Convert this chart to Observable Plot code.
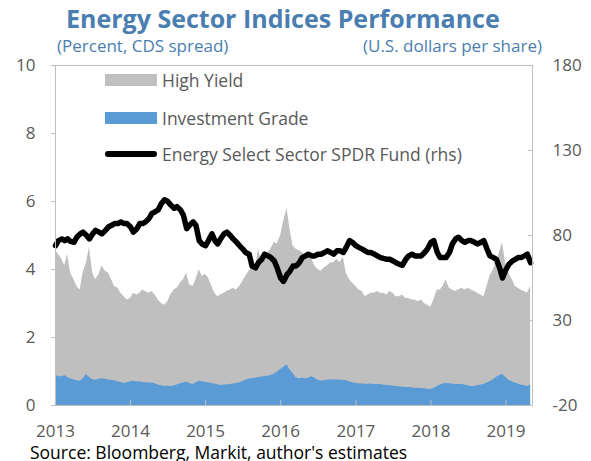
<!DOCTYPE html>
<html><head><meta charset="utf-8">
<script src="https://cdn.jsdelivr.net/npm/d3@7"></script>
<script src="https://cdn.jsdelivr.net/npm/@observablehq/plot@0.6"></script>
<style>
body{margin:0;background:#fff;font-family:"Open Sans",sans-serif;}
#wrap{position:relative;width:591px;height:461px;overflow:hidden;}
#title{height:36px;line-height:36px;font-weight:700;font-size:25px;color:#4A7EB0;padding-left:66px;white-space:nowrap;}
#sub{position:relative;height:22px;font-size:17px;color:#4A7EB0;}
#sub span{position:absolute;top:-1px;line-height:22px;white-space:nowrap;}
#sub .l{left:57px;}
#sub .r{right:49px;}
#chart svg{display:block;}
#src{font-size:17.5px;color:#000;padding-left:30px;line-height:18px;white-space:nowrap;}
.lg{position:absolute;left:0;top:0;}
.sw{position:absolute;left:105px;width:52px;}
.lt{position:absolute;left:162px;font-size:17.5px;color:#595959;line-height:20px;white-space:nowrap;}
</style></head>
<body>
<div id="wrap">
  <div id="title">Energy Sector Indices Performance</div>
  <div id="sub"><span class="l">(Percent, CDS spread)</span><span class="r">(U.S. dollars per share)</span></div>
  <div id="chart"></div>
  <div id="src">Source: Bloomberg, Markit, author's estimates</div>
  <div class="lg">
    <div class="sw" style="top:74px;height:12px;background:#BFBFBF"></div>
    <div class="lt" style="top:70px">High Yield</div>
    <div class="sw" style="top:112px;height:12px;background:#5B9BD5"></div>
    <div class="lt" style="top:108px">Investment Grade</div>
    <div class="sw" style="top:151px;height:6px;border-radius:3px;background:#000"></div>
    <div class="lt" style="top:144px">Energy Select Sector SPDR Fund (rhs)</div>
  </div>
</div>
<script>
// Semi-monthly observations (1st and 15th of each month), Jan 1 2013 - May 1 2019
const highYield = [
  4.55,4.45,4.3,4.1,4.45,3.9,3.7,3.5,3.4,3.9,4.2,4.65,3.9,3.7,3.85,4.1,3.95,3.9,3.7,3.5,3.45,3.3,3.2,3.1,
  3.15,3.3,3.25,3.3,3.4,3.35,3.3,3.35,3.25,3.1,3.0,2.95,3.05,3.25,3.4,3.45,3.6,3.7,3.9,3.55,3.5,3.7,4.0,3.8,
  3.85,3.75,3.5,3.3,3.2,3.25,3.3,3.35,3.4,3.45,3.4,3.5,3.65,3.8,3.95,4.1,4.0,4.6,4.2,4.35,4.5,4.6,4.8,4.75,
  5.0,5.4,5.8,5.2,4.7,4.6,4.55,4.5,4.4,4.5,4.3,4.1,4.0,3.95,4.05,4.1,4.2,4.2,4.3,4.2,4.35,3.9,3.7,3.6,
  3.5,3.4,3.35,3.2,3.25,3.3,3.3,3.35,3.3,3.3,3.25,3.35,3.3,3.2,3.2,3.25,3.15,3.15,3.1,3.1,3.05,3.1,3.0,2.95,
  2.9,3.1,3.4,3.4,3.5,3.7,3.45,3.4,3.35,3.4,3.45,3.4,3.45,3.4,3.35,3.3,3.25,3.2,3.5,3.8,4.0,4.2,4.5,4.8,
  4.1,3.9,3.7,3.5,3.45,3.4,3.35,3.3,3.5
];
const investmentGrade = [
  0.85,0.86,0.84,0.88,0.82,0.79,0.76,0.73,0.71,0.78,0.92,0.82,0.76,0.74,0.77,0.79,0.77,0.75,0.74,0.73,0.7,0.68,0.65,0.67,
  0.7,0.71,0.69,0.7,0.68,0.67,0.66,0.66,0.64,0.6,0.58,0.56,0.57,0.56,0.57,0.6,0.64,0.66,0.69,0.65,0.62,0.66,0.71,0.7,
  0.68,0.67,0.65,0.63,0.61,0.59,0.6,0.61,0.62,0.63,0.65,0.67,0.7,0.74,0.78,0.79,0.8,0.82,0.83,0.85,0.86,0.88,0.92,0.98,
  1.06,1.12,1.2,1.05,0.95,0.82,0.79,0.8,0.79,0.8,0.85,0.8,0.74,0.72,0.73,0.74,0.75,0.76,0.75,0.74,0.74,0.73,0.7,0.67,
  0.65,0.64,0.63,0.63,0.62,0.63,0.62,0.62,0.62,0.6,0.59,0.58,0.57,0.56,0.55,0.54,0.53,0.53,0.52,0.51,0.51,0.5,0.49,0.48,
  0.47,0.5,0.56,0.6,0.63,0.65,0.64,0.63,0.62,0.62,0.62,0.6,0.58,0.56,0.56,0.58,0.6,0.62,0.66,0.7,0.76,0.82,0.88,0.91,
  0.82,0.74,0.7,0.66,0.63,0.6,0.58,0.56,0.6
];
const energySPDR = [
  74,77,78,77,78,76.5,76,79,81,82,80,78,81,83,82,81,83,85,86,87,87,88,87,87,
  85,82,84,87,87,88,90,93,94,95,99,101,100,98,96,97,95,92,84,86,88,86,77,75,
  74,77,81,77,75,78,81,82,80,78,76,74,72,70,69,62,61,64,66,69,68,67,65,61,
  55,53,57,59,62,62,64,67,68,69,68,68,69,69,70,71,70,69,71,71,70,73,77,76,
  74,73,72,71,70,70,69,68,67,66.5,66,66,65,64,63,62.5,66,68,69,68,68,68,70,72,
  76,77,70,67,67,67,70,75,78,79,77,76,77,77,76,75,76,77,72,68,67,66,61,55,
  60,63,65,66,67,67,68,69,64
];
const yearTicks = [2013, 2014, 2015, 2016, 2017, 2018, 2019];
const leftTicks = [0, 2, 4, 6, 8, 10];
const rightTicks = [-20, 30, 80, 130, 180];

const startDate = new Date(Date.UTC(2013, 0, 1));
const endDate = new Date(Date.UTC(2019, 4, 10));
const rows = highYield.map((hy, i) => ({
  date: new Date(Date.UTC(2013, Math.floor(i / 2), i % 2 ? 15 : 1)),
  hy, ig: investmentGrade[i], xle: energySPDR[i]
}));
const lMax = leftTicks[leftTicks.length - 1];
const rMin = rightTicks[0], rMax = rightTicks[rightTicks.length - 1];
const toLeft = v => (v - rMin) / (rMax - rMin) * lMax;

const frameColor = "#BFBFBF";
const plot = Plot.plot({
  width: 591, height: 385,
  marginLeft: 55, marginRight: 59, marginTop: 7, marginBottom: 38,
  style: {fontFamily: "Open Sans", fontSize: "17px", color: "#595959", overflow: "visible", background: "transparent"},
  x: {type: "utc", domain: [startDate, endDate]},
  y: {domain: [0, lMax]},
  marks: [
    Plot.areaY(rows, {x: "date", y: "hy", fill: "#BFBFBF"}),
    Plot.areaY(rows, {x: "date", y: "ig", fill: "#5B9BD5"}),
    Plot.lineY(rows, {x: "date", y: d => toLeft(d.xle), stroke: "#000", strokeWidth: 5.5, strokeLinejoin: "round", strokeLinecap: "round"}),
    Plot.frame({stroke: frameColor}),
    Plot.axisY(leftTicks, {anchor: "left", tickSize: 4, tickPadding: 16, stroke: frameColor, fill: "#595959", label: null}),
    Plot.axisY(rightTicks.map(toLeft), {anchor: "right", tickSize: 5, dx: -5, tickPadding: 20, tickFormat: v => String(Math.round(v / lMax * (rMax - rMin) + rMin)), stroke: frameColor, fill: "#595959", textAnchor: "start", label: null}),
    Plot.axisX(yearTicks.map(y => new Date(Date.UTC(y, 0, 1))), {anchor: "bottom", tickSize: 5, dy: -5, tickPadding: 19, tickFormat: d => String(d.getUTCFullYear()), stroke: frameColor, fill: "#595959", label: null})
  ]
});
document.getElementById("chart").appendChild(plot);
</script>
</body></html>
